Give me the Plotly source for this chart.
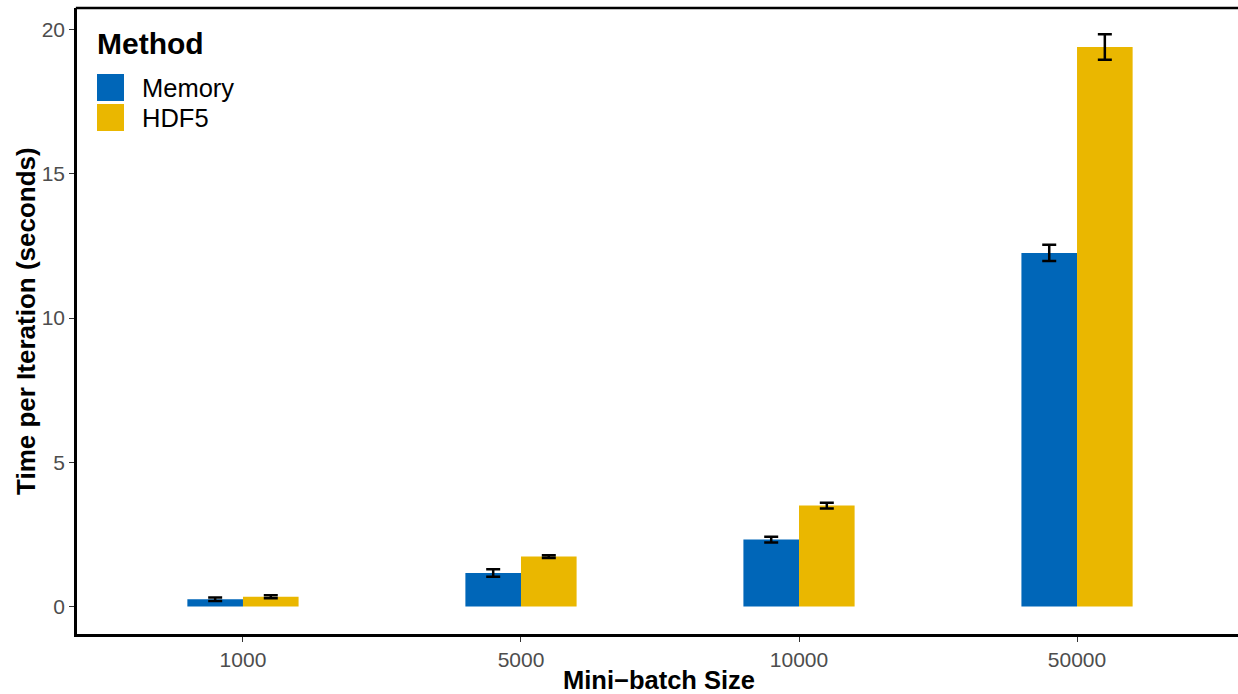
import plotly.graph_objects as go

batch_sizes = ["1000", "5000", "10000", "50000"]
methods = ["Memory", "HDF5"]
memory_time = [0.25, 1.16, 2.32, 12.26]
memory_err = [0.06, 0.13, 0.10, 0.28]
hdf5_time = [0.34, 1.73, 3.50, 19.40]
hdf5_err = [0.05, 0.05, 0.10, 0.44]
colors = ["#0066B8", "#EAB700"]

W, H = 1238, 694
ml, mr, mt, mb = 77, 0, 8, 60
pw, ph = W - ml - mr, H - mt - mb

fig = go.Figure()
for name, vals, errs, col in [(methods[0], memory_time, memory_err, colors[0]),
                              (methods[1], hdf5_time, hdf5_err, colors[1])]:
    fig.add_trace(go.Bar(
        x=batch_sizes, y=vals, name=name,
        marker=dict(color=col, line=dict(width=0)),
        error_y=dict(type="data", array=errs, visible=True,
                     color="black", thickness=2.5, width=7),
        showlegend=False, cliponaxis=False,
    ))

font_family = "Liberation Sans, Arial, Helvetica, sans-serif"

fig.update_layout(
    width=W, height=H,
    margin=dict(l=ml, r=mr, t=mt, b=mb, autoexpand=False),
    paper_bgcolor="white", plot_bgcolor="white",
    barmode="group", bargap=0.6, bargroupgap=0,
    font=dict(family=font_family, color="black"),
    xaxis=dict(
        type="category", range=[-0.597, 3.579], automargin=False,
        showline=True, linecolor="black", linewidth=2.5, mirror=False,
        ticks="outside", ticklen=5, tickcolor="#333333", tickwidth=1,
        tickfont=dict(size=21, color="#4D4D4D"),
        showgrid=False, zeroline=False,
    ),
    yaxis=dict(
        range=[-0.953, 20.75], automargin=False,
        tickvals=[0, 5, 10, 15, 20],
        showline=True, linecolor="black", linewidth=2.5, mirror=False,
        ticks="outside", ticklen=5, tickcolor="#333333", tickwidth=1,
        tickfont=dict(size=21, color="#4D4D4D"),
        showgrid=False, zeroline=False,
    ),
)

def px_to_paper(x, y):
    return (x - ml) / pw, (H - mb - y) / ph

shapes = []
annotations = []

# top border of the panel
shapes.append(dict(type="line", xref="paper", yref="paper", x0=-0.001, x1=1.0, y0=1, y1=1,
                   line=dict(color="black", width=2.5)))

# axis titles
ax, ay = px_to_paper(659, 680)
annotations.append(dict(x=ax, y=ay, xref="paper", yref="paper", text="<b>Mini\u2212batch Size</b>",
                        showarrow=False, xanchor="center", yanchor="middle",
                        font=dict(size=25.5, color="black", family=font_family)))
ax, ay = px_to_paper(26, 321)
annotations.append(dict(x=ax, y=ay, xref="paper", yref="paper", text="<b>Time per Iteration (seconds)</b>",
                        showarrow=False, xanchor="center", yanchor="middle", textangle=-90,
                        font=dict(size=26, color="black", family=font_family)))

# custom legend (large swatches, like ggplot)
tx, ty = px_to_paper(95, 44)
annotations.append(dict(x=tx, y=ty, xref="paper", yref="paper", text="<b>Method</b>",
                        showarrow=False, xanchor="left", yanchor="middle",
                        font=dict(size=30, color="black", family=font_family)))
for i, (name, col) in enumerate(zip(methods, colors)):
    top = 74 + i * 30
    x0, y1 = px_to_paper(97, top)
    x1, y0 = px_to_paper(124, top + 27)
    shapes.append(dict(type="rect", xref="paper", yref="paper", x0=x0, x1=x1, y0=y0, y1=y1,
                       fillcolor=col, line=dict(width=0)))
    lx, ly = px_to_paper(140, top + 14)
    annotations.append(dict(x=lx, y=ly, xref="paper", yref="paper", text=name,
                            showarrow=False, xanchor="left", yanchor="middle",
                            font=dict(size=25.5, color="black", family=font_family)))

fig.update_layout(shapes=shapes, annotations=annotations)

fig.write_html("out.html",
               config={"displayModeBar": False},
               post_script="document.body.style.margin='0';document.body.style.overflow='hidden';")
